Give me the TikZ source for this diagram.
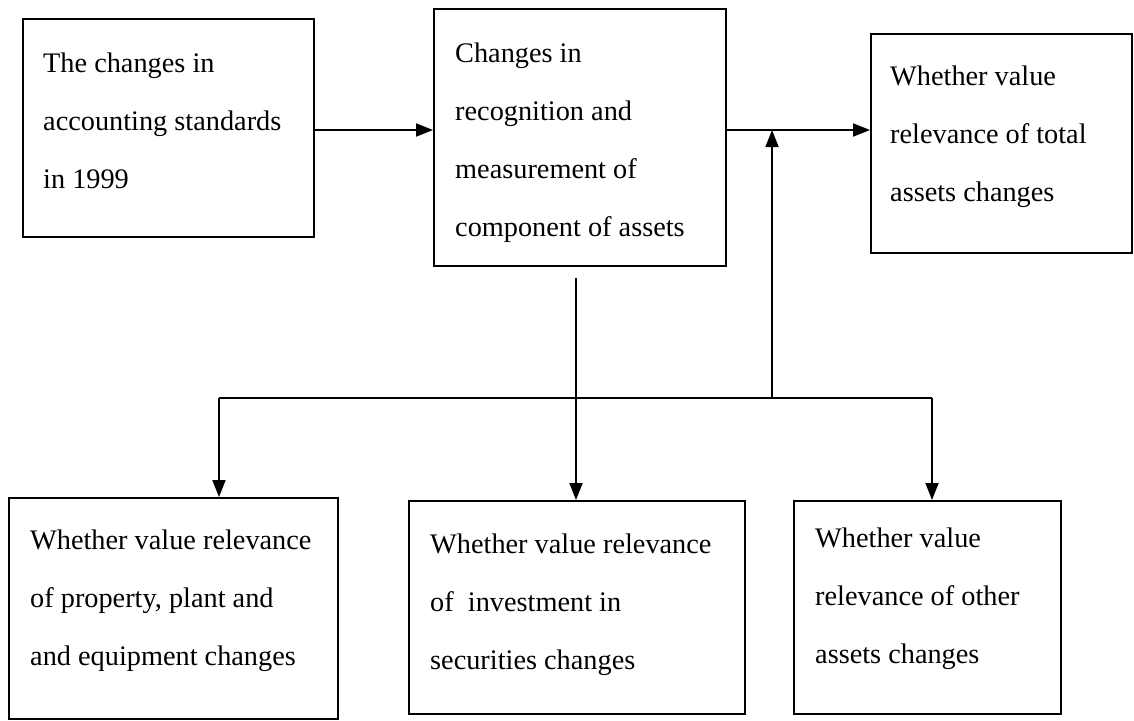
\documentclass[tikz,border=0pt]{standalone}
\usepackage{fontspec}
\setmainfont{Liberation Serif}
\usetikzlibrary{arrows.meta,calc}
\begin{document}
\begin{tikzpicture}[x=1pt,y=-1pt,
  box/.style={draw, line width=1.8pt, inner sep=0pt, anchor=north west},
  txt/.style={anchor=north west, inner sep=0pt, align=left, font=\fontsize{28.3}{58}\selectfont},
  arr/.style={line width=1.8pt, -{Triangle[length=17pt,width=13pt]}},
  ln/.style={line width=1.8pt}]
\useasboundingbox[fill=white] (0,0) rectangle (1134,720);
% boxes
\node[box, minimum width=291pt, minimum height=218pt] (b1) at (22,18) {};
\node[box, minimum width=292pt, minimum height=257pt] (b2) at (433,8) {};
\node[box, minimum width=261pt, minimum height=219pt] (b3) at (870,33) {};
\node[box, minimum width=329pt, minimum height=221pt] (b4) at (8,497) {};
\node[box, minimum width=336pt, minimum height=213pt] (b5) at (408,500) {};
\node[box, minimum width=267pt, minimum height=213pt] (b6) at (793,500) {};
% texts (top of first line = baseline - 19.5)
\node[txt] (t1) at (43,52.5) {The changes in\\accounting standards\\in 1999};
\node[txt] (t2) at (455,42.5) {Changes in\\recognition and\\measurement of\\component of assets};
\node[txt] (t3) at (890,65.5) {Whether value\\relevance of total\\assets changes};
\node[txt] (t4) at (30,529.5) {Whether value relevance\\of property, plant and\\and equipment changes};
\node[txt] (t5) at (430,533.5) {Whether value relevance\\of \ investment in\\securities changes};
\node[txt] (t6) at (815,527.5) {Whether value\\relevance of other\\assets changes};
% connector helpers
\coordinate (r) at (0,130);
\coordinate (hub) at (772,398);
\coordinate (L) at (219,398);
\coordinate (R) at (932,398);
\coordinate (m) at (576,278);
% connectors
\draw[arr] (b1.east |- r) -- (b2.west |- r);
\draw[arr] (b2.east |- r) -- (b3.west |- r);
\draw[arr] (hub) -- (hub |- r);
\draw[ln] (L) -- (R);
\draw[arr] (L) -- (L |- b4.north);
\draw[arr] (R) -- (R |- b6.north);
\draw[arr] (m) -- (m |- b5.north);
\end{tikzpicture}
\end{document}
